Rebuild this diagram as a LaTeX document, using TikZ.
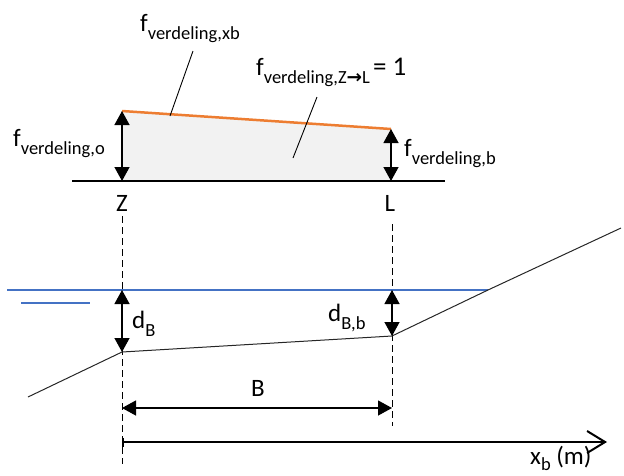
\documentclass[tikz,border=0pt]{standalone}
\usepackage{fontspec}
\setmainfont{Carlito}
\newfontfamily\arrfont{DejaVu Sans}
\usetikzlibrary{arrows.meta}
\definecolor{orangeline}{RGB}{237,125,49}
\definecolor{blueline}{RGB}{68,114,196}
\newcommand\mainsz{\fontsize{25}{29}\selectfont}
\newcommand\subsz{\fontsize{18.5}{21}\selectfont}
\newcommand\sub[1]{\raisebox{-8pt}{\subsz #1}}
\newcommand\subsmall[1]{\raisebox{-6pt}{\subsz #1}}
\begin{document}
\begin{tikzpicture}[x=1pt,y=-1pt,
  lbl/.style={inner sep=0pt, font=\mainsz},
  dimarrow/.style={line width=1.3pt, {Triangle[length=14pt,width=15pt]}-{Triangle[length=14pt,width=15pt]}},
  leader/.style={line width=0.9pt},
  dashline/.style={line width=1pt, dash pattern=on 7pt off 4pt},
  water/.style={blueline, line width=2.4pt},
  ground/.style={black!85, line width=1pt},
  axisline/.style={line width=2.5pt, {Bar[width=9pt,line width=1.5pt]}-{Straight Barb[length=18pt,width=22pt,line width=2pt]}}]
\useasboundingbox (0,0) rectangle (624,475);
% top part
\coordinate (Ztop) at (122,111);
\coordinate (Ltop) at (391,129);
\coordinate (Zbase) at (122,181);
\coordinate (Lbase) at (391,181);
\coordinate (baseW) at (72,181);
\coordinate (baseE) at (445,181);
\fill[gray!10] (Ztop) -- (Ltop) -- (Lbase) -- (Zbase) -- cycle;
\draw[line width=2.5pt] (baseW) -- (baseE);
\draw[orangeline, line width=2.5pt] (Ztop) -- (Ltop);
\draw[dimarrow] (Ztop) -- (Zbase);
\draw[dimarrow] (Ltop) -- (Lbase);
\node[lbl, anchor=base west] (fo) at (13,146) {f\sub{verdeling,o}};
\node[lbl, anchor=base west] (fb) at (404,156) {f\sub{verdeling,b}};
\node[lbl, anchor=base west] (fxb) at (140,31) {f\sub{verdeling,xb}};
\node[lbl, anchor=base west] (fzl) at (256,75) {f\sub{verdeling,Z{\arrfont\bfseries →}L}\hspace{3pt}{\fontsize{27}{30}\selectfont= 1}};
\coordinate (xbA) at (193,51);
\coordinate (xbB) at (170,116);
\coordinate (zlA) at (317,97);
\coordinate (zlB) at (293,158);
\draw[leader] (xbA) -- (xbB);
\draw[leader] (zlA) -- (zlB);
\node[lbl] (Z) at (122,203) {Z};
\node[lbl] (L) at (390,203) {L};
% lower part
\coordinate (dZtop) at (122,216);
\coordinate (dZbot) at (122,464);
\coordinate (dLtop) at (392,224);
\coordinate (dLbot) at (392,426);
\draw[dashline] (dZtop) -- (dZbot);
\draw[dashline] (dLtop) -- (dLbot);
\coordinate (wW) at (7,290);
\coordinate (wE) at (488,290);
\coordinate (wZ) at (122,290);
\coordinate (wL) at (392,290);
\coordinate (sW) at (21,303);
\coordinate (sE) at (90,303);
\draw[water] (wW) -- (wE);
\draw[water] (sW) -- (sE);
\coordinate (g0) at (28,397);
\coordinate (gZ) at (122,352);
\coordinate (gL) at (392,336);
\coordinate (g3) at (621,228);
\draw[ground] (g0) -- (gZ) -- (gL) -- (wE) -- (g3);
\draw[dimarrow] (wZ) -- (gZ);
\draw[dimarrow] (wL) -- (gL);
\node[lbl, anchor=base west] (dB) at (132,328) {d\sub{B}};
\node[lbl, anchor=base west] (dBb) at (328,321) {d\sub{B,b}};
\coordinate (BZ) at (122,408);
\coordinate (BL) at (392,408);
\draw[dimarrow] (BZ) -- (BL);
\node[lbl] (B) at (258,388) {B};
\coordinate (ax0) at (122,442);
\coordinate (ax1) at (607,442);
\draw[axisline] (ax0) -- (ax1);
\node[lbl, anchor=base west] (xb) at (530,464) {x\subsmall{b} (m)};
\end{tikzpicture}
\end{document}
